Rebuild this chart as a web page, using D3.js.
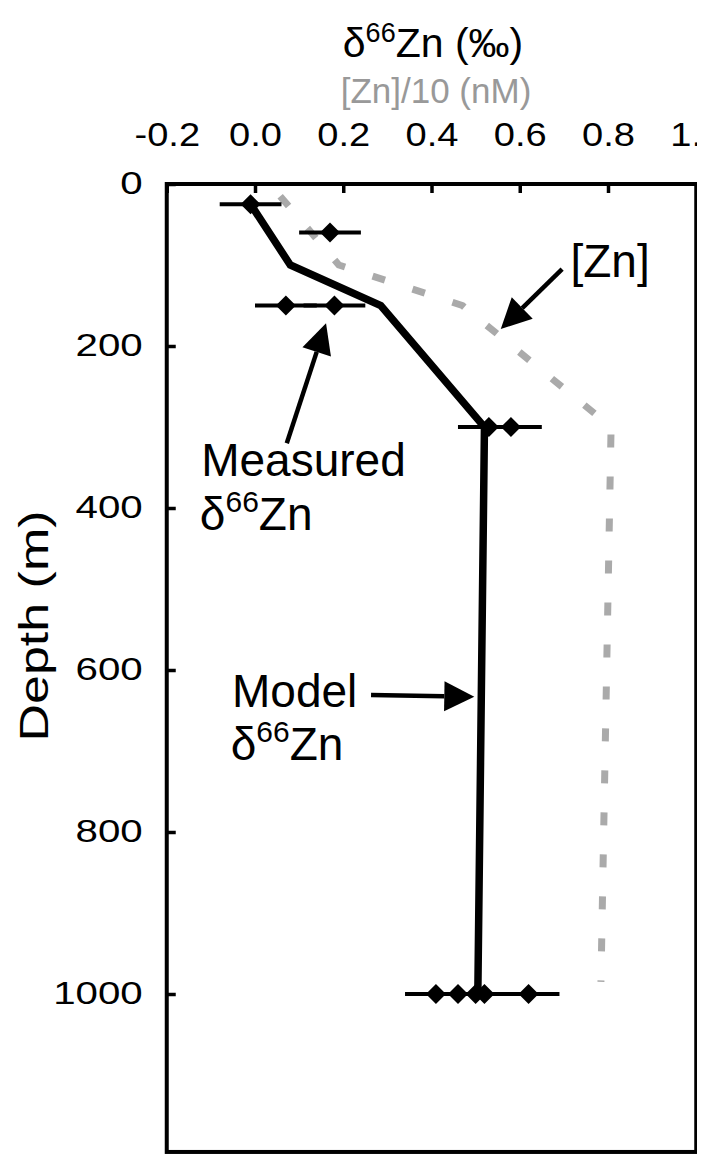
<!DOCTYPE html>
<html>
<head>
<meta charset="utf-8">
<script src="https://cdn.jsdelivr.net/npm/d3@7/dist/d3.min.js"></script>
<style>
  html, body { margin: 0; padding: 0; background: #fff; }
  svg { display: block; font-family: "Liberation Sans", Arial, Helvetica, sans-serif; }
</style>
</head>
<body>
<svg id="chart" width="697" height="1155"></svg>
<script>
// ---- data ----
// delta66Zn tick values (permil) and depth ticks (m)
const xTicks = [-0.2, 0.0, 0.2, 0.4, 0.6, 0.8, 1.0];
const depthTicks = [0, 200, 400, 600, 800, 1000];

// measured delta66Zn, one entry per replicate: [depth, value]
const measuredDepth = [25, 60, 150, 150, 300, 300, 1000, 1000, 1000, 1000, 1000];
const measuredValue = [-0.01, 0.17, 0.07, 0.18, 0.53, 0.58, 0.41, 0.46, 0.50, 0.52, 0.62];
const measuredErr = 0.07;

// model delta66Zn profile
const modelDepth = [25, 100, 150, 300, 1000];
const modelValue = [-0.01, 0.08, 0.285, 0.52, 0.505];

// dissolved [Zn]/10 (nM) profile
const znDepth = [15, 100, 150, 300, 985];
const znValue = [0.057, 0.19, 0.47, 0.807, 0.784];

// ---- layout ----
const svg = d3.select("#chart");
const x = d3.scaleLinear().domain([-0.2, 1.0]).range([166.75, 696.25]);
const y = d3.scaleLinear().domain([0, 1000]).range([184, 994]);
const depthMax = 1195;

const font = "\"Liberation Sans\", Arial, Helvetica, sans-serif";

// ---- [Zn] dashed profile ----
const znPts = znDepth.map((d, i) => [znValue[i], d]);
svg.append("path")
  .datum(znPts)
  .attr("fill", "none")
  .attr("stroke", "#aaaaaa")
  .attr("stroke-width", 7)
  .attr("stroke-dasharray", "13,29")
  .attr("stroke-linejoin", "round")
  .attr("d", d3.line().x(p => x(p[0])).y(p => y(p[1])));

// ---- model profile ----
const modelPts = modelDepth.map((d, i) => [modelValue[i], d]);
svg.append("path")
  .datum(modelPts)
  .attr("fill", "none")
  .attr("stroke", "#000")
  .attr("stroke-width", 7.5)
  .attr("stroke-linejoin", "miter")
  .attr("d", d3.line().x(p => x(p[0])).y(p => y(p[1])));

// ---- measured values with error bars ----
const meas = measuredDepth.map((d, i) => ({ depth: d, v: measuredValue[i] }));
svg.append("g").selectAll("line")
  .data(meas)
  .join("line")
  .attr("x1", d => x(d.v - measuredErr))
  .attr("x2", d => x(d.v + measuredErr))
  .attr("y1", d => y(d.depth))
  .attr("y2", d => y(d.depth))
  .attr("stroke", "#000")
  .attr("stroke-width", 4);

const diamond = d3.symbol(d3.symbolSquare, 200);
svg.append("g").selectAll("path")
  .data(meas)
  .join("path")
  .attr("d", diamond)
  .attr("transform", d => `translate(${x(d.v)},${y(d.depth)}) rotate(45)`)
  .attr("fill", "#000");

// ---- frame ----
svg.append("rect")
  .attr("x", x(-0.2))
  .attr("y", y(0))
  .attr("width", x(1.0) - x(-0.2))
  .attr("height", y(depthMax) - y(0))
  .attr("fill", "none")
  .attr("stroke", "#000")
  .attr("stroke-width", 4);

// ---- top axis ----
const xAxis = svg.append("g")
  .attr("transform", `translate(0,${y(0)})`)
  .call(d3.axisTop(x).tickValues(xTicks).tickSizeInner(-9).tickSizeOuter(0)
    .tickPadding(0).tickFormat(d => d.toFixed(1)));
xAxis.select(".domain").remove();
xAxis.selectAll(".tick line").attr("stroke", "#000").attr("stroke-width", 3.5);
xAxis.selectAll(".tick text")
  .attr("y", null)
  .attr("transform", "translate(0,-38) scale(1.12,1)")
  .attr("fill", "#000")
  .style("font-family", font)
  .style("font-size", "34px");

// ---- left axis ----
const yAxis = svg.append("g")
  .attr("transform", `translate(${x(-0.2)},0)`)
  .call(d3.axisLeft(y).tickValues(depthTicks).tickSizeInner(-9).tickSizeOuter(0)
    .tickPadding(24).tickFormat(d3.format("d")));
yAxis.select(".domain").remove();
yAxis.selectAll(".tick line").attr("stroke", "#000").attr("stroke-width", 3.5);
yAxis.selectAll(".tick text")
  .attr("x", null)
  .attr("transform", "translate(-24,0) scale(1.3,1)")
  .attr("fill", "#000")
  .style("font-family", font)
  .style("font-size", "31px");

// ---- axis titles ----
const title = svg.append("text")
  .attr("x", 433).attr("y", 57)
  .attr("text-anchor", "middle")
  .style("font-family", font).style("font-size", "41px")
  .attr("fill", "#000");
title.append("tspan").text("δ");
title.append("tspan").attr("dy", -15).style("font-size", "27px").text("66");
title.append("tspan").attr("dy", 15).text("Zn (‰)");

svg.append("text")
  .attr("x", 436).attr("y", 103)
  .attr("text-anchor", "middle")
  .style("font-family", font).style("font-size", "35px")
  .attr("fill", "#999999")
  .text("[Zn]/10 (nM)");

svg.append("text")
  .attr("transform", "translate(48,626) rotate(-90) scale(1.3,1)")
  .attr("text-anchor", "middle")
  .style("font-family", font).style("font-size", "40px")
  .attr("fill", "#000")
  .text("Depth (m)");

// ---- annotations (data units) ----
const arrows = [
  { from: [0.696, 105], to: [0.557, 179] },
  { from: [0.072, 320], to: [0.161, 172] },
  { from: [0.263, 631], to: [0.497, 633] }
];
const headLen = 30, headHalf = 15;
arrows.forEach(a => {
  const x1 = x(a.from[0]), y1 = y(a.from[1]);
  const x2 = x(a.to[0]), y2 = y(a.to[1]);
  const ang = Math.atan2(y2 - y1, x2 - x1);
  const bx = x2 - headLen * Math.cos(ang), by = y2 - headLen * Math.sin(ang);
  svg.append("line")
    .attr("x1", x1).attr("y1", y1).attr("x2", bx).attr("y2", by)
    .attr("stroke", "#000").attr("stroke-width", 4.5);
  const px = -Math.sin(ang) * headHalf, py = Math.cos(ang) * headHalf;
  svg.append("path")
    .attr("d", `M${x2},${y2}L${bx + px},${by + py}L${bx - px},${by - py}Z`)
    .attr("fill", "#000");
});

function deltaLabel(v, depth) {
  const t = svg.append("text")
    .attr("x", x(v)).attr("y", y(depth))
    .style("font-family", font).style("font-size", "46px")
    .attr("fill", "#000");
  t.append("tspan").text("δ");
  t.append("tspan").attr("dy", -18).style("font-size", "30px").text("66");
  t.append("tspan").attr("dy", 18).text("Zn");
}
function plainLabel(v, depth, s) {
  svg.append("text")
    .attr("x", x(v)).attr("y", y(depth))
    .style("font-family", font).style("font-size", "46px")
    .attr("fill", "#000")
    .text(s);
}
plainLabel(0.715, 115, "[Zn]");
plainLabel(-0.122, 360, "Measured");
deltaLabel(-0.125, 427);
plainLabel(-0.052, 646, "Model");
deltaLabel(-0.055, 711);
</script>
</body>
</html>
